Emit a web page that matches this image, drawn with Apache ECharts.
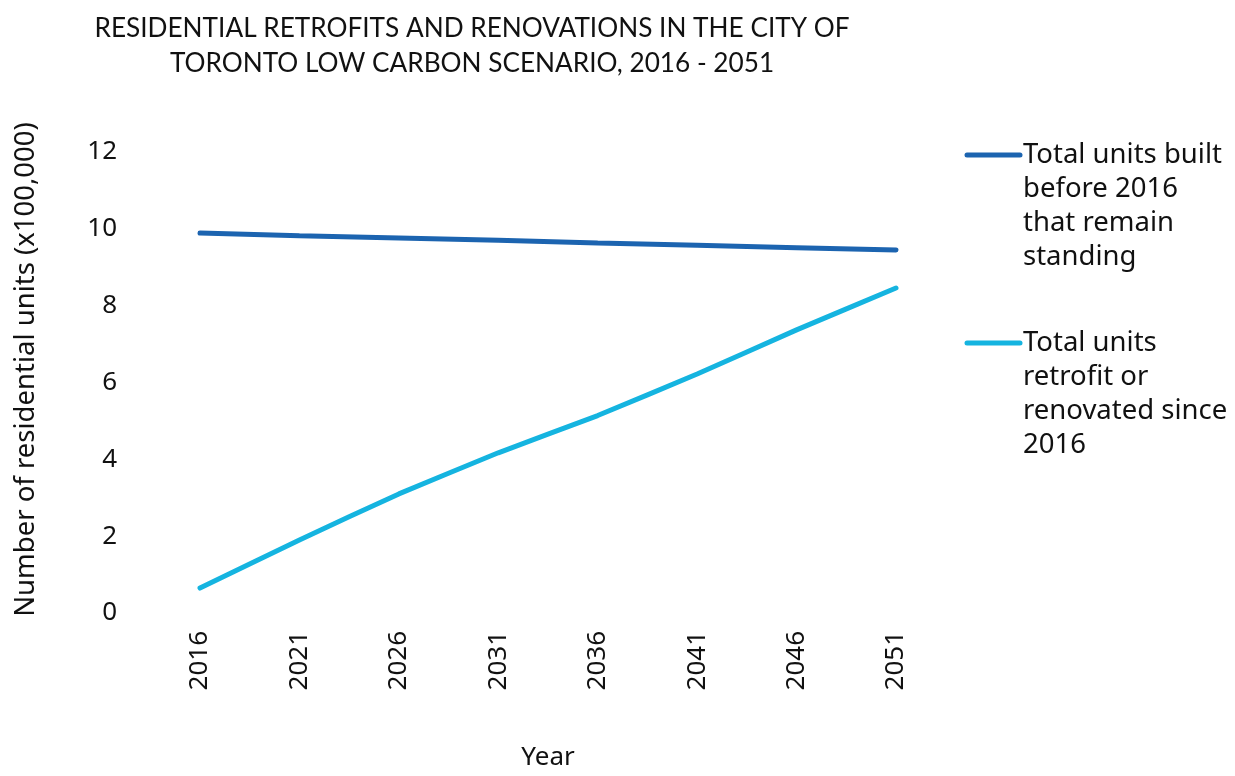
<!DOCTYPE html>
<html>
<head>
<meta charset="utf-8">
<title>Residential retrofits and renovations, Toronto low carbon scenario</title>
<script src="https://cdn.jsdelivr.net/npm/echarts@6/dist/echarts.min.js"></script>
<style>
  html, body { margin: 0; padding: 0; background: #ffffff; }
  #chart { width: 1235px; height: 776px; }
</style>
</head>
<body>
<div id="chart"></div>
<script>
// Years on the horizontal axis
const years = ['2016', '2021', '2026', '2031', '2036', '2041', '2046', '2051'];

// Units in hundreds of thousands
const builtBefore2016Standing = [9.89, 9.82, 9.76, 9.70, 9.63, 9.57, 9.51, 9.45];
const retrofitSince2016 = [0.65, 1.90, 3.10, 4.17, 5.14, 6.22, 7.37, 8.46];

const seriesNames = ['Total units built before 2016 that remain standing',
                     'Total units retrofit or renovated since 2016'];
// Legend text, wrapped the way it is laid out beside the plot
const legendLines = [
  ['Total units built', 'before 2016', 'that remain', 'standing'],
  ['Total units', 'retrofit or', 'renovated since', '2016']
];
const seriesColors = ['#1c64b0', '#15b4e0'];

const FONT = '"Noto Sans", Lato, sans-serif';
const TITLE_FONT = 'Lato, "Noto Sans", sans-serif';

const chart = echarts.init(document.getElementById('chart'));

// Legend drawn as a line swatch next to the first line of each wrapped label
const legendTops = [138, 326];
const legendGraphics = [];
legendLines.forEach((lines, i) => {
  legendGraphics.push({
    type: 'line',
    shape: { x1: 967, y1: legendTops[i] + 17, x2: 1020, y2: legendTops[i] + 17 },
    style: { stroke: seriesColors[i], lineWidth: 5, lineCap: 'round' }
  });
  legendGraphics.push({
    type: 'text',
    left: 1023,
    top: legendTops[i],
    style: {
      text: lines.join('\n'),
      font: '27.5px ' + FONT,
      lineHeight: 34,
      fill: '#111111'
    }
  });
});

chart.setOption({
  backgroundColor: '#ffffff',
  animation: false,
  title: {
    text: 'RESIDENTIAL RETROFITS AND RENOVATIONS IN THE CITY OF\nTORONTO LOW CARBON SCENARIO, 2016 - 2051',
    left: 467,
    top: 6,
    textAlign: 'center',
    textStyle: {
      fontFamily: TITLE_FONT,
      fontSize: 26.2,
      fontWeight: 'normal',
      color: '#111111',
      lineHeight: 35
    }
  },
  legend: { show: false, data: seriesNames },
  grid: { left: 200, right: 339, top: 152, bottom: 163 },
  xAxis: {
    type: 'category',
    data: years,
    boundaryGap: false,
    name: 'Year',
    nameLocation: 'middle',
    nameGap: 132,
    nameTextStyle: { fontFamily: FONT, fontSize: 26, color: '#111111' },
    axisLine: { show: false },
    axisTick: { show: false },
    axisLabel: {
      rotate: 90,
      margin: 18,
      fontFamily: FONT,
      fontSize: 26,
      color: '#111111'
    },
    splitLine: { show: false }
  },
  yAxis: {
    type: 'value',
    min: 0,
    max: 12,
    interval: 2,
    name: 'Number of residential units (x100,000)',
    nameLocation: 'middle',
    nameGap: 160,
    nameRotate: 90,
    nameTextStyle: {
      fontFamily: FONT,
      fontSize: 27.5,
      color: '#111111',
      padding: [0, 0, 0, 26]
    },
    axisLine: { show: false },
    axisTick: { show: false },
    splitLine: { show: false },
    axisLabel: {
      margin: 83,
      fontFamily: FONT,
      fontSize: 26,
      color: '#111111'
    }
  },
  series: [
    {
      name: seriesNames[0],
      type: 'line',
      data: builtBefore2016Standing,
      showSymbol: false,
      lineStyle: { color: seriesColors[0], width: 5, cap: 'round' },
      itemStyle: { color: seriesColors[0] }
    },
    {
      name: seriesNames[1],
      type: 'line',
      data: retrofitSince2016,
      showSymbol: false,
      smooth: 0.1,
      lineStyle: { color: seriesColors[1], width: 5, cap: 'round' },
      itemStyle: { color: seriesColors[1] }
    }
  ],
  graphic: legendGraphics
});
</script>
</body>
</html>
